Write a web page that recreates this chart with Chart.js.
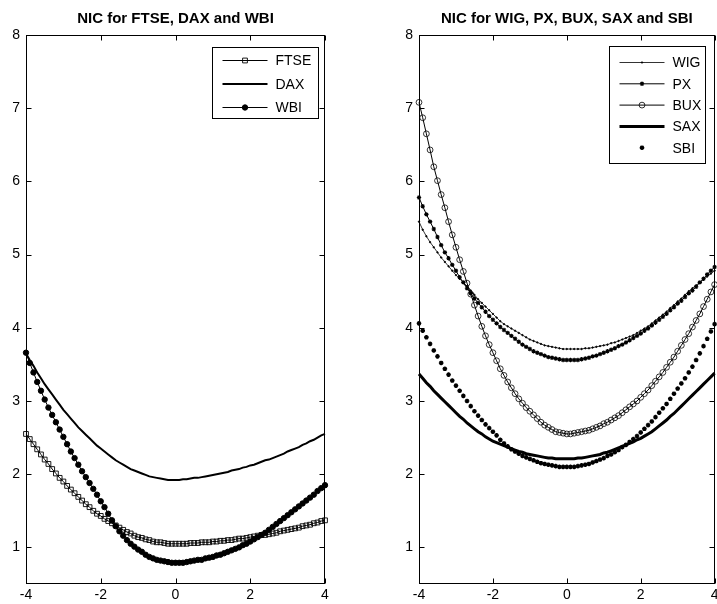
<!DOCTYPE html>
<html>
<head>
<meta charset="utf-8">
<title>NIC</title>
<script src="https://cdn.jsdelivr.net/npm/chart.js@4.4.1/dist/chart.umd.min.js"></script>
<style>
  html, body { margin: 0; padding: 0; background: #fff; overflow: hidden; }
  #wrap { position: relative; width: 717px; height: 604px; overflow: hidden; }
  canvas { position: absolute; top: 0; }
  #left { left: 0; }
  #right { left: 360px; }
</style>
</head>
<body>
<div id="wrap">
  <canvas id="left" width="360" height="604"></canvas>
  <canvas id="right" width="360" height="604"></canvas>
</div>
<script>
// z grid of the news impact curves
const z = [-4.0,-3.9,-3.8,-3.7,-3.6,-3.5,-3.4,-3.3,-3.2,-3.1,
  -3.0,-2.9,-2.8,-2.7,-2.6,-2.5,-2.4,-2.3,-2.2,-2.1,
  -2.0,-1.9,-1.8,-1.7,-1.6,-1.5,-1.4,-1.3,-1.2,-1.1,
  -1.0,-0.9,-0.8,-0.7,-0.6,-0.5,-0.4,-0.3,-0.2,-0.1,
  0.0,
  0.1,0.2,0.3,0.4,0.5,0.6,0.7,0.8,0.9,1.0,
  1.1,1.2,1.3,1.4,1.5,1.6,1.7,1.8,1.9,2.0,
  2.1,2.2,2.3,2.4,2.5,2.6,2.7,2.8,2.9,3.0,
  3.1,3.2,3.3,3.4,3.5,3.6,3.7,3.8,3.9,4.0];

// left panel
const ftse = [2.55,2.48,2.41,2.34,2.27,2.20,2.14,2.07,2.01,1.95,
  1.90,1.84,1.79,1.74,1.69,1.64,1.59,1.55,1.50,1.46,
  1.43,1.39,1.36,1.33,1.30,1.27,1.24,1.21,1.19,1.16,
  1.14,1.13,1.11,1.10,1.08,1.07,1.07,1.06,1.05,1.05,
  1.05,
  1.05,1.05,1.05,1.06,1.06,1.06,1.07,1.07,1.07,1.08,
  1.08,1.09,1.09,1.10,1.10,1.11,1.12,1.12,1.13,1.14,
  1.15,1.16,1.17,1.17,1.18,1.19,1.20,1.22,1.23,1.24,
  1.25,1.26,1.27,1.29,1.30,1.31,1.33,1.34,1.36,1.37];
const dax = [3.65,3.56,3.48,3.39,3.31,3.23,3.16,3.09,3.02,2.95,
  2.88,2.82,2.76,2.70,2.64,2.59,2.54,2.49,2.44,2.39,
  2.35,2.31,2.27,2.23,2.19,2.16,2.13,2.10,2.07,2.05,
  2.03,2.01,1.99,1.97,1.96,1.95,1.94,1.93,1.92,1.92,
  1.92,
  1.92,1.93,1.93,1.94,1.95,1.95,1.96,1.97,1.98,1.99,
  2.00,2.01,2.02,2.03,2.05,2.06,2.07,2.09,2.10,2.12,
  2.13,2.15,2.17,2.19,2.20,2.22,2.24,2.26,2.28,2.31,
  2.33,2.35,2.37,2.40,2.42,2.45,2.47,2.50,2.53,2.55];
const wbi = [3.66,3.52,3.39,3.26,3.14,3.02,2.91,2.81,2.71,2.61,
  2.51,2.41,2.31,2.22,2.13,2.04,1.96,1.88,1.80,1.72,
  1.63,1.55,1.46,1.37,1.29,1.22,1.16,1.10,1.05,1.01,
  0.97,0.94,0.90,0.87,0.85,0.83,0.82,0.81,0.80,0.79,
  0.79,
  0.79,0.79,0.80,0.81,0.82,0.83,0.83,0.85,0.86,0.87,
  0.89,0.90,0.92,0.94,0.96,0.98,1.00,1.03,1.05,1.08,
  1.11,1.14,1.17,1.20,1.24,1.28,1.32,1.36,1.40,1.44,
  1.48,1.52,1.56,1.60,1.64,1.68,1.72,1.77,1.81,1.85];

// right panel
const wig = [5.45,5.34,5.25,5.17,5.10,5.03,4.96,4.90,4.84,4.78,
  4.72,4.67,4.62,4.57,4.51,4.45,4.39,4.34,4.29,4.24,
  4.19,4.14,4.09,4.05,4.02,3.99,3.96,3.93,3.90,3.87,
  3.84,3.82,3.80,3.78,3.76,3.75,3.74,3.73,3.72,3.71,
  3.71,
  3.71,3.71,3.71,3.71,3.72,3.72,3.73,3.74,3.75,3.76,
  3.77,3.79,3.80,3.82,3.84,3.86,3.88,3.90,3.93,3.96,
  3.99,4.02,4.06,4.10,4.14,4.18,4.22,4.27,4.31,4.36,
  4.40,4.45,4.50,4.54,4.58,4.62,4.66,4.70,4.74,4.78];
const px = [5.78,5.66,5.55,5.45,5.35,5.24,5.13,5.03,4.95,4.86,
  4.78,4.69,4.62,4.54,4.47,4.40,4.34,4.28,4.22,4.16,
  4.11,4.06,4.01,3.97,3.93,3.89,3.85,3.81,3.77,3.74,
  3.71,3.68,3.66,3.64,3.62,3.60,3.59,3.58,3.57,3.56,
  3.56,
  3.56,3.56,3.56,3.57,3.58,3.59,3.61,3.62,3.64,3.66,
  3.68,3.70,3.72,3.75,3.77,3.80,3.83,3.86,3.89,3.92,
  3.96,3.99,4.03,4.07,4.11,4.15,4.19,4.24,4.28,4.33,
  4.37,4.42,4.47,4.51,4.56,4.62,4.67,4.73,4.78,4.83];
const bux = [7.08,6.87,6.65,6.43,6.20,6.01,5.82,5.64,5.45,5.27,
  5.10,4.93,4.77,4.61,4.46,4.31,4.16,4.02,3.89,3.77,
  3.66,3.55,3.44,3.35,3.26,3.18,3.10,3.03,2.97,2.91,
  2.86,2.81,2.76,2.71,2.67,2.64,2.61,2.58,2.57,2.56,
  2.55,
  2.55,2.56,2.57,2.58,2.59,2.60,2.62,2.64,2.66,2.69,
  2.71,2.74,2.77,2.80,2.84,2.88,2.92,2.96,3.00,3.05,
  3.10,3.15,3.21,3.27,3.33,3.39,3.46,3.53,3.60,3.68,
  3.76,3.84,3.92,4.01,4.10,4.19,4.29,4.39,4.49,4.59];
const sax = [3.37,3.31,3.25,3.20,3.14,3.09,3.04,2.99,2.94,2.89,
  2.84,2.79,2.75,2.70,2.66,2.62,2.58,2.55,2.51,2.48,
  2.45,2.43,2.41,2.39,2.37,2.35,2.33,2.31,2.30,2.28,
  2.27,2.26,2.25,2.24,2.23,2.22,2.22,2.21,2.21,2.21,
  2.21,
  2.21,2.21,2.22,2.22,2.23,2.24,2.25,2.26,2.27,2.29,
  2.30,2.32,2.34,2.36,2.38,2.40,2.42,2.44,2.47,2.49,
  2.52,2.55,2.58,2.62,2.66,2.70,2.74,2.79,2.83,2.88,
  2.93,2.98,3.03,3.08,3.13,3.18,3.23,3.28,3.33,3.38];
const sbi = [4.06,3.96,3.87,3.78,3.69,3.61,3.52,3.44,3.36,3.28,
  3.21,3.14,3.07,3.00,2.93,2.86,2.80,2.74,2.68,2.63,
  2.58,2.53,2.47,2.42,2.38,2.34,2.31,2.28,2.25,2.23,
  2.21,2.19,2.17,2.15,2.14,2.13,2.12,2.11,2.10,2.10,
  2.10,
  2.10,2.10,2.11,2.12,2.13,2.14,2.16,2.18,2.20,2.22,
  2.25,2.27,2.30,2.33,2.37,2.40,2.44,2.48,2.52,2.57,
  2.62,2.67,2.72,2.78,2.84,2.90,2.96,3.03,3.10,3.17,
  3.24,3.31,3.39,3.47,3.56,3.65,3.75,3.85,3.95,4.05];

const xTicks = [-4, -2, 0, 2, 4];
const yTicks = [1, 2, 3, 4, 5, 6, 7, 8];

const FONT = 'Arial, "Liberation Sans", Helvetica, sans-serif';

function pts(ys) {
  return ys.map((v, i) => ({ x: z[i], y: v }));
}

function series(label, ys, o) {
  return Object.assign({
    label: label,
    data: pts(ys),
    borderColor: '#000',
    backgroundColor: '#000',
    borderWidth: 1,
    pointRadius: 0,
    pointBorderColor: '#000',
    pointBackgroundColor: '#000',
    pointBorderWidth: 1,
    tension: 0,
    clip: false
  }, o);
}

function drawMarker(ctx, ds, x, y) {
  if (!ds.pointRadius) return;
  ctx.save();
  ctx.strokeStyle = ds.pointBorderColor;
  ctx.fillStyle = ds.pointBackgroundColor;
  ctx.lineWidth = ds.pointBorderWidth;
  Chart.helpers.drawPoint(ctx, {
    pointStyle: ds.pointStyle || 'circle',
    radius: ds.pointRadius,
    rotation: 0,
    borderWidth: ds.pointBorderWidth
  }, x, y);
  ctx.restore();
}

// MATLAB style box, inward ticks, title and legend
const framePlugin = {
  id: 'frame',
  afterDraw(chart, args, opts) {
    const ctx = chart.ctx;
    const a = chart.chartArea;
    const xs = chart.scales.x, ys = chart.scales.y;
    ctx.save();
    ctx.strokeStyle = '#000';
    ctx.lineWidth = 1;
    const L = Math.round(a.left) + 0.5, R = Math.round(a.right) - 0.5;
    const T = Math.round(a.top) + 0.5, B = Math.round(a.bottom) - 0.5;
    ctx.strokeRect(L, T, R - L, B - T);
    ctx.beginPath();
    xTicks.forEach(v => {
      const p = Math.round(xs.getPixelForValue(v)) + 0.5;
      ctx.moveTo(p, B); ctx.lineTo(p, B - 5);
      ctx.moveTo(p, T); ctx.lineTo(p, T + 5);
    });
    yTicks.forEach(v => {
      const p = Math.round(ys.getPixelForValue(v)) + 0.5;
      ctx.moveTo(L, p); ctx.lineTo(L + 5, p);
      ctx.moveTo(R, p); ctx.lineTo(R - 5, p);
    });
    ctx.stroke();

    // title
    ctx.fillStyle = '#000';
    ctx.font = 'bold 15px ' + FONT;
    ctx.textAlign = 'center';
    ctx.textBaseline = 'alphabetic';
    ctx.fillText(opts.title, (a.left + a.right) / 2, 23);

    // legend
    const lg = opts.legend;
    const bx = Math.round(a.right - lg.right - lg.width) + 0.5;
    const by = Math.round(a.top + lg.top) + 0.5;
    ctx.fillStyle = '#fff';
    ctx.fillRect(bx, by, lg.width, lg.height);
    ctx.strokeRect(bx, by, lg.width, lg.height);
    ctx.font = '14px ' + FONT;
    ctx.textAlign = 'left';
    ctx.textBaseline = 'middle';
    chart.data.datasets.forEach((ds, i) => {
      const yy = by + lg.rowStart + i * lg.rowStep;
      const x0 = bx + 10, x1 = bx + 55;
      if (ds.showLine !== false) {
        ctx.beginPath();
        ctx.lineWidth = ds.borderWidth;
        ctx.strokeStyle = '#000';
        ctx.moveTo(x0, yy); ctx.lineTo(x1, yy);
        ctx.stroke();
      }
      drawMarker(ctx, ds, (x0 + x1) / 2, yy);
      ctx.fillStyle = '#000';
      ctx.fillText(ds.label, bx + 63, yy + 1);
    });
    ctx.restore();
  }
};

function axes() {
  const tickFont = { family: FONT, size: 14 };
  return {
    x: {
      type: 'linear', min: -4, max: 4,
      afterBuildTicks: s => { s.ticks = xTicks.map(v => ({ value: v })); },
      afterFit: s => { s.height = 20; s.paddingLeft = 0; s.paddingRight = 0; },
      grid: { display: false, drawTicks: false },
      border: { display: false },
      ticks: { color: '#000', font: tickFont, padding: 3, maxRotation: 0, autoSkip: false }
    },
    y: {
      type: 'linear', min: 0.5, max: 8,
      afterBuildTicks: s => { s.ticks = yTicks.map(v => ({ value: v })); },
      afterFit: s => { s.width = 26; s.paddingTop = 0; s.paddingBottom = 0; },
      grid: { display: false, drawTicks: false },
      border: { display: false },
      ticks: { color: '#000', font: tickFont, padding: 6, autoSkip: false }
    }
  };
}

function makeChart(id, datasets, padding, frameOpts) {
  return new Chart(document.getElementById(id), {
    type: 'line',
    data: { datasets: datasets },
    options: {
      responsive: false,
      animation: false,
      parsing: false,
      layout: { padding: padding },
      plugins: { legend: { display: false }, tooltip: { enabled: false }, frame: frameOpts },
      scales: axes()
    },
    plugins: [framePlugin]
  });
}

makeChart('left', [
  series('FTSE', ftse, { pointRadius: 3.4, pointStyle: 'rect', pointBackgroundColor: 'rgba(0,0,0,0)', pointBorderWidth: 0.9 }),
  series('DAX', dax, { borderWidth: 2 }),
  series('WBI', wbi, { pointRadius: 2.7, pointStyle: 'circle' })
], { left: 0, right: 35, top: 35, bottom: 0 }, {
  title: 'NIC for FTSE, DAX and WBI',
  legend: { right: 7, top: 12, width: 106, height: 71, rowStart: 13, rowStep: 23.5 }
});

makeChart('right', [
  series('WIG', wig, { borderWidth: 0.8, pointRadius: 0.7, pointStyle: 'circle' }),
  series('PX', px, { pointRadius: 2.2, pointStyle: 'star', pointBorderWidth: 1.1 }),
  series('BUX', bux, { pointRadius: 2.9, pointStyle: 'circle', pointBackgroundColor: 'rgba(0,0,0,0)', pointBorderWidth: 0.8 }),
  series('SAX', sax, { borderWidth: 3 }),
  series('SBI', sbi, { showLine: false, pointRadius: 2.3, pointStyle: 'star', pointBorderWidth: 1.4 })
], { left: 33, right: 2, top: 35, bottom: 0 }, {
  title: 'NIC for WIG, PX, BUX, SAX and SBI',
  legend: { right: 10, top: 11, width: 96, height: 117, rowStart: 16, rowStep: 21.3 }
});
</script>
</body>
</html>
